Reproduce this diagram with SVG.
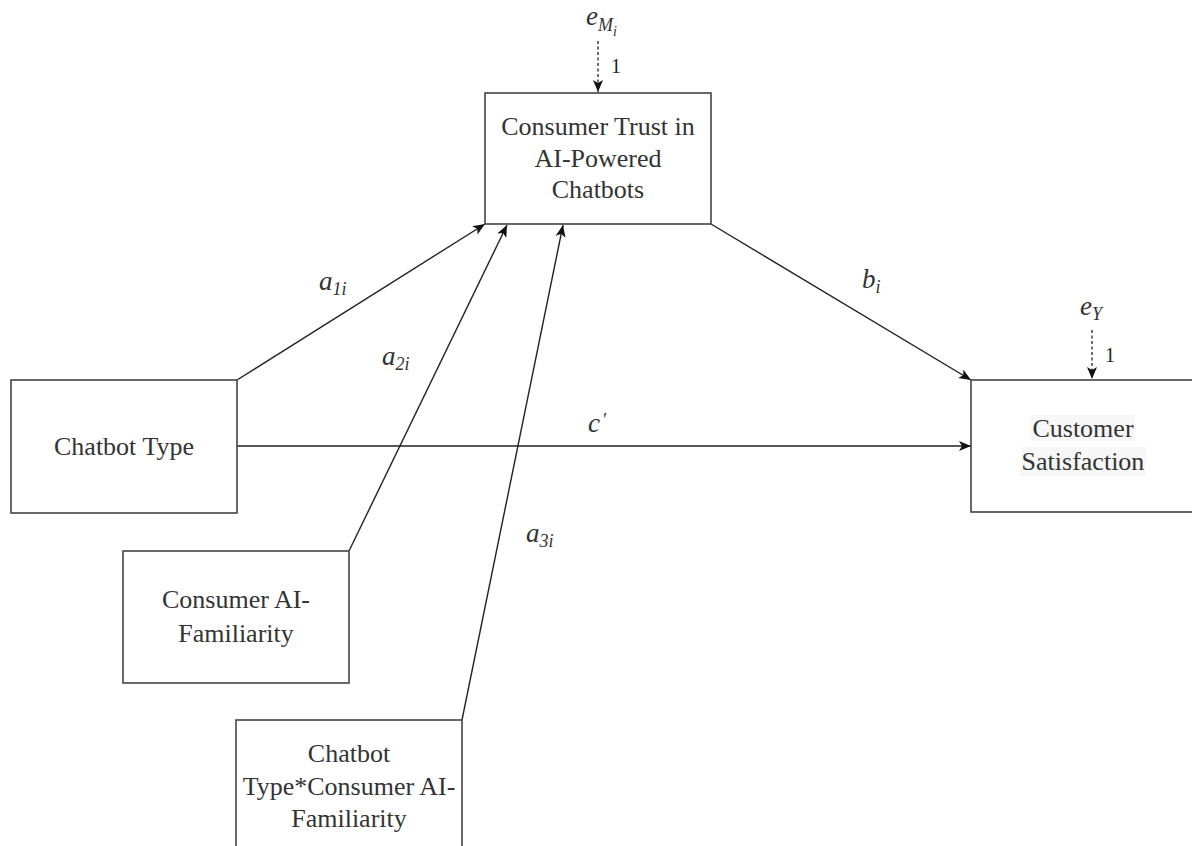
<svg xmlns="http://www.w3.org/2000/svg" width="1192" height="846" viewBox="0 0 1192 846">
  <defs>
    <marker id="arrow" viewBox="0 0 12 10" refX="12" refY="5" markerWidth="12" markerHeight="10" markerUnits="userSpaceOnUse" orient="auto">
      <path d="M0,0 L12,5 L0,10 L3,5 Z" fill="#111"/>
    </marker>
    <style>
      .box { fill: #fff; stroke: #444; stroke-width: 1.6; }
      .label { font-family: 'Liberation Serif', Tinos, 'DejaVu Serif', serif; font-size: 26px; fill: #333; text-anchor: middle; }
      .math { font-family: 'Liberation Serif', Tinos, 'DejaVu Serif', serif; font-style: italic; font-size: 27px; fill: #333; }
      .sub { font-size: 18px; }
      .num { font-family: 'Liberation Serif', Tinos, 'DejaVu Serif', serif; font-size: 20px; fill: #222; }
      .edge { fill: none; stroke: #222; stroke-width: 1.4; marker-end: url(#arrow); }
      .err { fill: none; stroke: #222; stroke-width: 1.3; stroke-dasharray: 3 2.5; marker-end: url(#arrow); }
    </style>
  </defs>
  <rect width="1192" height="846" fill="#fff"/>

  <!-- paths between variables -->
  <g id="connectors">
    <line class="edge" x1="237" y1="380" x2="485" y2="224"/>
    <line class="edge" x1="349" y1="551" x2="507" y2="225"/>
    <line class="edge" x1="462" y1="720" x2="563" y2="225"/>
    <line class="edge" x1="711" y1="224" x2="971" y2="380"/>
    <line class="edge" x1="237" y1="446" x2="971" y2="446"/>
    <line class="err" x1="598" y1="41" x2="598" y2="92"/>
    <line class="err" x1="1092" y1="330" x2="1092" y2="379"/>
  </g>

  <!-- path coefficients -->
  <g id="coefficients">
    <text class="math" x="319" y="290">a<tspan class="sub" dy="5">1i</tspan></text>
    <text class="math" x="382" y="365">a<tspan class="sub" dy="5">2i</tspan></text>
    <text class="math" x="526" y="542">a<tspan class="sub" dy="5">3i</tspan></text>
    <text class="math" x="862" y="288">b<tspan class="sub" dy="5">i</tspan></text>
    <text class="math" x="588" y="432">c<tspan dx="3" dy="-6" font-style="normal" font-size="19">′</tspan></text>
  </g>

  <!-- error terms -->
  <g id="error-M">
    <text class="math" x="586" y="25">e<tspan class="sub" dy="6">M</tspan><tspan font-size="14" dy="5">i</tspan></text>
    <text class="num" x="611" y="73">1</text>
  </g>
  <g id="error-Y">
    <text class="math" x="1080" y="315">e<tspan class="sub" dy="5">Y</tspan></text>
    <text class="num" x="1105" y="362">1</text>
  </g>

  <g id="node-trust">
    <rect class="box" x="485" y="93" width="226" height="131"/>
    <text class="label" x="598" y="135">Consumer Trust in</text>
    <text class="label" x="598" y="167">AI-Powered</text>
    <text class="label" x="598" y="198">Chatbots</text>
  </g>

  <g id="node-satisfaction">
    <rect class="box" x="971" y="380" width="226" height="132"/>
    <rect x="1031" y="415" width="104" height="26" fill="#f7f7f7"/>
    <rect x="1021" y="447" width="125" height="29" fill="#f7f7f7"/>
    <text class="label" x="1083" y="437">Customer</text>
    <text class="label" x="1083" y="470">Satisfaction</text>
  </g>

  <g id="node-type">
    <rect class="box" x="11" y="380" width="226" height="133"/>
    <text class="label" x="124" y="455">Chatbot Type</text>
  </g>

  <g id="node-familiarity">
    <rect class="box" x="123" y="551" width="226" height="132"/>
    <text class="label" x="236" y="608">Consumer AI-</text>
    <text class="label" x="236" y="642">Familiarity</text>
  </g>

  <g id="node-interaction">
    <rect class="box" x="236" y="720" width="226" height="140"/>
    <text class="label" x="349" y="762">Chatbot</text>
    <text class="label" x="349" y="795">Type*Consumer AI-</text>
    <text class="label" x="349" y="827">Familiarity</text>
  </g>
</svg>
